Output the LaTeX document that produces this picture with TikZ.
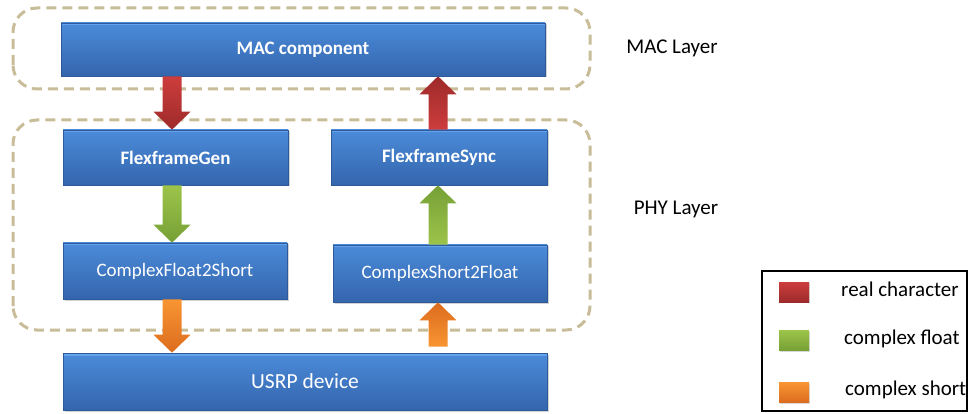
\documentclass[tikz,border=0pt]{standalone}
\usepackage{fontspec}
\setmainfont{Carlito}
\usetikzlibrary{calc,shadows}
\definecolor{boxtop}{HTML}{4B8BD9}
\definecolor{boxbot}{HTML}{3465AD}
\definecolor{boxedge}{HTML}{2E5A9C}
\definecolor{boxhi}{HTML}{64A3EC}
\definecolor{redl}{HTML}{CD3D3D}
\definecolor{redd}{HTML}{9E2A2A}
\definecolor{greenl}{HTML}{9CC44A}
\definecolor{greend}{HTML}{76A036}
\definecolor{orangel}{HTML}{F89532}
\definecolor{oranged}{HTML}{DC6C1E}
\definecolor{layerdash}{HTML}{C8BD98}
\tikzset{
  blk/.style={rectangle, draw=boxedge, line width=0.6pt, top color=boxtop, bottom color=boxbot,
    text=white, font=\fontsize{19}{21}\selectfont, inner sep=0pt,
    path picture={\fill[boxhi] (path picture bounding box.north west) rectangle
      ([yshift=-2.5pt]path picture bounding box.north east);},
    drop shadow={shadow xshift=1.5pt, shadow yshift=-1.5pt, opacity=0.35}},
  blkb/.style={blk, font=\fontsize{19}{21}\selectfont\bfseries},
  layerbox/.style={draw=layerdash, line width=3pt, dash pattern=on 10pt off 6pt, rounded corners=24pt},
  lbl/.style={font=\fontsize{21}{24}\selectfont, text=black, inner sep=0pt},
  swatch/.style={rectangle, minimum width=30pt, minimum height=20pt, inner sep=0pt,
    drop shadow={shadow xshift=1pt, shadow yshift=-1pt, opacity=0.3}}
}
\newcommand\myDown[4]{%
  \shade[top color=#3, bottom color=#4] let \p1=(#1), \p2=(#2) in
    (\x1-9.5pt,\y1) -- (\x1+9.5pt,\y1) -- (\x1+9.5pt,\y2+18pt) -- (\x1+18.5pt,\y2+18pt)
    -- (\x2,\y2) -- (\x1-18.5pt,\y2+18pt) -- (\x1-9.5pt,\y2+18pt) -- cycle;}
\newcommand\myUp[4]{%
  \shade[top color=#4, bottom color=#3] let \p1=(#1), \p2=(#2) in
    (\x1-9.5pt,\y1) -- (\x1-9.5pt,\y2-18pt) -- (\x1-18.5pt,\y2-18pt) -- (\x2,\y2)
    -- (\x1+18.5pt,\y2-18pt) -- (\x1+9.5pt,\y2-18pt) -- (\x1+9.5pt,\y1) -- cycle;}
\begin{document}
\begin{tikzpicture}[x=1pt,y=1pt]
\useasboundingbox (0,0) rectangle (970,413);
% layer frames
\draw[layerbox] (13,324) rectangle (590,405);
\draw[layerbox] (13,83) rectangle (590,293);
% blocks
\node[blkb, minimum width=484pt, minimum height=53pt] (mac) at (303,363.5) {MAC component};
\node[blkb, minimum width=225pt, minimum height=55pt] (fg) at (175.5,255.5) {FlexframeGen};
\node[blkb, minimum width=216pt, minimum height=55pt] (fs) at (439,255.5) {FlexframeSync};
\node[blk, minimum width=224pt, minimum height=56pt] (cf) at (175,142) {ComplexFloat2Short};
\node[blk, minimum width=214pt, minimum height=57pt] (cs) at (440,139.5) {ComplexShort2Float};
\node[blk, minimum width=484pt, minimum height=57pt, font=\fontsize{21.5}{24}\selectfont] (usrp) at (305,31.5) {USRP device};
% columns
\coordinate (lcol) at (172,0);
\coordinate (rcol) at (438,0);
% arrow end points
\coordinate (a1) at (mac.south -| lcol);
\coordinate (a2) at (fg.north -| lcol);
\coordinate (a3) at (fg.south -| lcol);
\coordinate (a4) at (cf.north -| lcol);
\coordinate (a5) at (cf.south -| lcol);
\coordinate (a6) at (usrp.north -| lcol);
\coordinate (b1) at (fs.north -| rcol);
\coordinate (b2) at (mac.south -| rcol);
\coordinate (b3) at (cs.north -| rcol);
\coordinate (b4) at (fs.south -| rcol);
\coordinate (b5) at ($(usrp.north -| rcol)+(0,6)$);
\coordinate (b6) at (cs.south -| rcol);
\myDown{a1}{a2}{redl}{redd}
\myDown{a3}{a4}{greenl}{greend}
\myDown{a5}{a6}{orangel}{oranged}
\myUp{b1}{b2}{redl}{redd}
\myUp{b3}{b4}{greenl}{greend}
\myUp{b5}{b6}{orangel}{oranged}
% layer labels
\node[lbl] (macl) at (672,365) {MAC Layer};
\node[lbl] (phyl) at (676,204) {PHY Layer};
% legend
\draw[line width=2.5pt] (762,2) rectangle (967,142);
\node[swatch, top color=redl, bottom color=redd] (swr) at (794,121) {};
\node[swatch, top color=greenl, bottom color=greend] (swg) at (794,72.5) {};
\node[swatch, top color=orangel, bottom color=oranged] (swo) at (794,20.5) {};
\node[lbl, anchor=west] (tr) at (841,124) {real character};
\node[lbl, anchor=west] (tg) at (844,74) {complex float};
\node[lbl, anchor=west] (to) at (845,23) {complex short};
\end{tikzpicture}
\end{document}
